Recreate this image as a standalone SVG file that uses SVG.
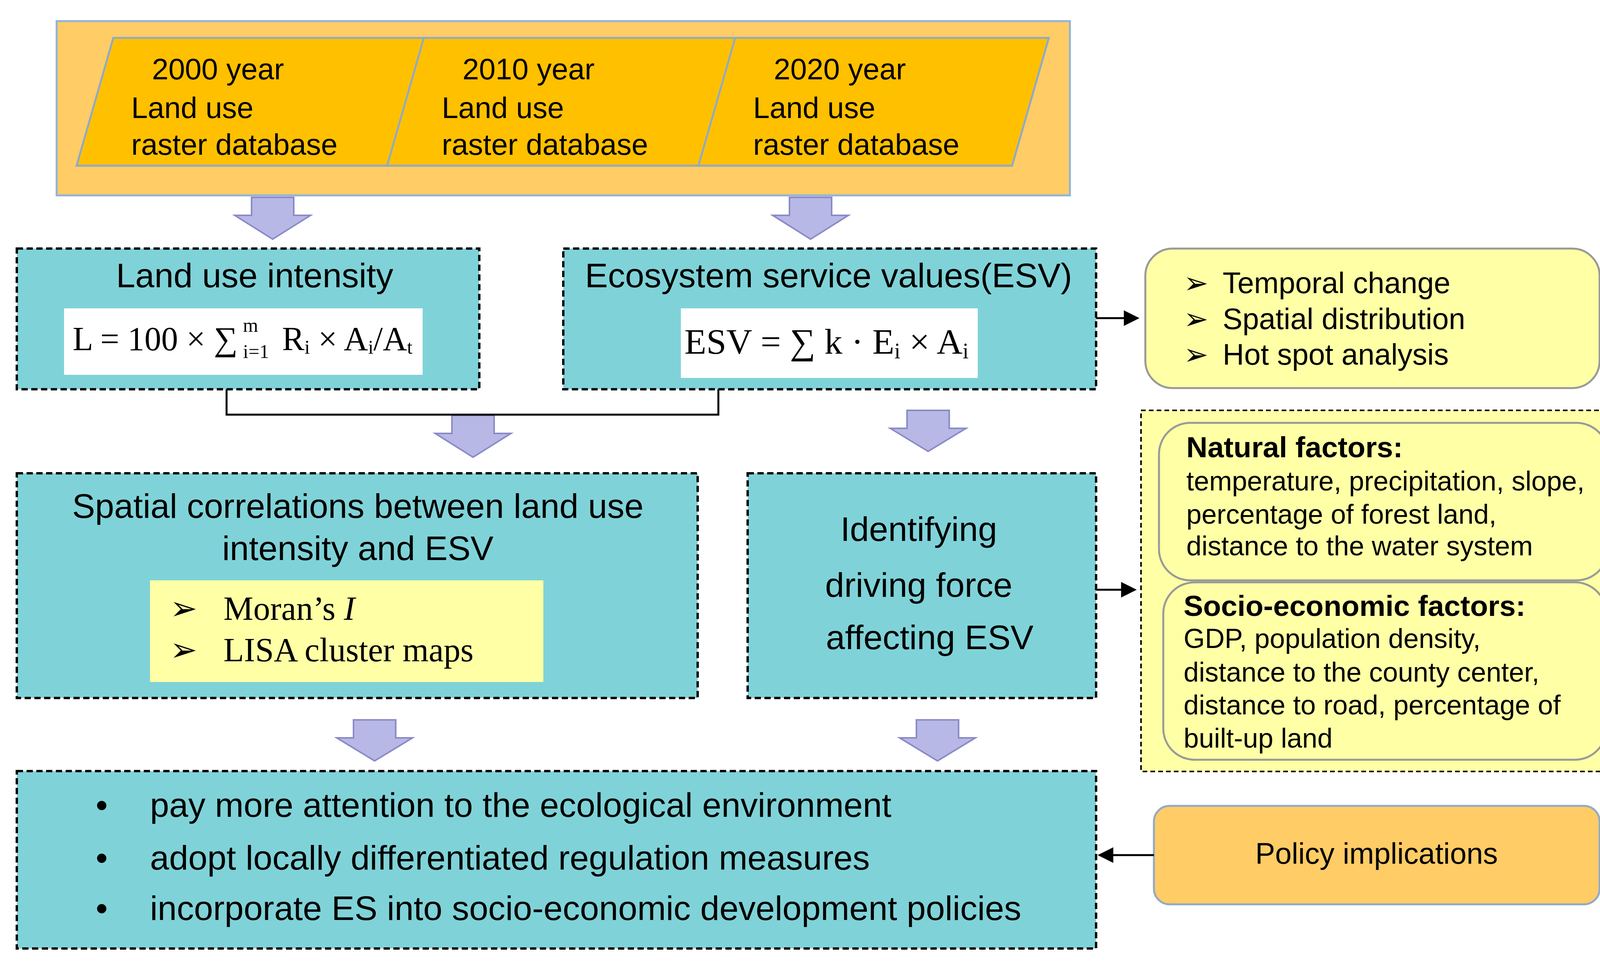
<svg xmlns="http://www.w3.org/2000/svg" width="4210" height="2482" viewBox="0 0 4210 2482">
<defs>
<marker id="ah" markerWidth="8" markerHeight="8" refX="7" refY="4" orient="auto" markerUnits="strokeWidth"><path d="M0,0 L8,4 L0,8 z" fill="#000"/></marker>
<style>
text{font-family:"Liberation Sans",Arial,sans-serif;fill:#000;dominant-baseline:middle}
.t{font-size:76px}
.h{font-size:88px}
.m{font-size:75px}
.s{font-size:70px}
.b{font-weight:bold}
.f{font-family:"Liberation Serif","Times New Roman",serif}
.dash{fill:#7FD3D8;stroke:#000;stroke-width:6;stroke-dasharray:16 9}
.para{fill:#FFC000;stroke:#8FAAC8;stroke-width:5}
.darr{fill:#B8B8E6;stroke:#8A8AC8;stroke-width:4}
.yel{fill:#FFFFA6;stroke:#999;stroke-width:5}
.line{stroke:#000;stroke-width:5;fill:none}
</style>
</defs>
<g id="top">
<rect x="145" y="54" width="2594" height="446" fill="#FFCC66" stroke="#8FB4D9" stroke-width="5"/>
<polygon class="para" points="290,97 1093,97 999,424 196,424"/>
<polygon class="para" points="1085,97 1888,97 1794,424 991,424"/>
<polygon class="para" points="1882,97 2685,97 2591,424 1788,424"/>
<text class="t" x="389" y="183">2000 year</text><text class="t" x="336" y="282">Land use</text><text class="t" x="336" y="376">raster database</text>
<text class="t" x="1184" y="183">2010 year</text><text class="t" x="1131" y="282">Land use</text><text class="t" x="1131" y="376">raster database</text>
<text class="t" x="1981" y="183">2020 year</text><text class="t" x="1928" y="282">Land use</text><text class="t" x="1928" y="376">raster database</text>
</g>
<g id="lui">
<rect class="dash" x="43" y="636" width="1184" height="360"/>
<text class="h" x="652" y="712" text-anchor="middle">Land use intensity</text>
<rect x="164" y="789" width="918" height="170" fill="#fff"/>
<text class="f" x="186" y="876" font-size="86">L = 100 × ∑</text>
<text class="f" x="622" y="838" font-size="50">m</text>
<text class="f" x="622" y="905" font-size="50">i=1</text>
<text class="f" x="722" y="876" font-size="86">R<tspan font-size="50" dy="18">i</tspan><tspan dy="-18"> × A</tspan><tspan font-size="50" dy="18">i</tspan><tspan dy="-18">/A</tspan><tspan font-size="50" dy="18">t</tspan></text>
</g>
<g id="esv">
<rect class="dash" x="1442" y="636" width="1364" height="360"/>
<text class="h" x="2121" y="712" text-anchor="middle">Ecosystem service values(ESV)</text>
<rect x="1743" y="789" width="760" height="178" fill="#fff"/>
<text class="f" x="1752" y="884" font-size="92">ESV = ∑ k · E<tspan font-size="56" dy="20">i</tspan><tspan dy="-20"> × A</tspan><tspan font-size="56" dy="20">i</tspan></text>
</g>
<g id="analysis">
<rect class="yel" x="2932" y="636" width="1163" height="357" rx="70"/>
<text class="t" x="3030" y="730">➢</text><text class="t" x="3130" y="730">Temporal change</text>
<text class="t" x="3030" y="822">➢</text><text class="t" x="3130" y="822">Spatial distribution</text>
<text class="t" x="3030" y="913">➢</text><text class="t" x="3130" y="913">Hot spot analysis</text>
</g>
<g id="spatial">
<rect class="dash" x="43" y="1211" width="1743" height="575"/>
<text class="h" x="916" y="1302" text-anchor="middle">Spatial correlations between  land use</text>
<text class="h" x="916" y="1410" text-anchor="middle">intensity and ESV</text>
<rect x="384" y="1485" width="1007" height="260" fill="#FFFFA6"/>
<text class="f" x="435" y="1566" font-size="84">➢</text><text class="f" x="572" y="1566" font-size="86">Moran’s <tspan font-style="italic">I</tspan></text>
<text class="f" x="435" y="1672" font-size="84">➢</text><text class="f" x="572" y="1672" font-size="86">LISA cluster maps</text>
</g>
<g id="identify">
<rect class="dash" x="1914" y="1211" width="892" height="575"/>
<text class="h" x="2352" y="1361" text-anchor="middle">Identifying</text>
<text class="h" x="2352" y="1504" text-anchor="middle">driving force</text>
<text class="h" x="2380" y="1638" text-anchor="middle">affecting ESV</text>
</g>
<g id="factors">
<rect x="2921" y="1050" width="1246" height="924" fill="#FFFFA6" stroke="#000" stroke-width="4" stroke-dasharray="12 8"/>
<rect class="yel" x="2967" y="1082" width="1149" height="403" rx="80"/>
<text class="m b" x="3037" y="1150">Natural factors:</text>
<text class="s" x="3037" y="1237">temperature, precipitation,  slope,</text>
<text class="s" x="3037" y="1322">percentage of forest land,</text>
<text class="s" x="3037" y="1403">distance to the water system</text>
<rect class="yel" x="2978" y="1490" width="1134" height="454" rx="80"/>
<text class="m b" x="3030" y="1556">Socio-economic factors:</text>
<text class="s" x="3030" y="1640">GDP, population density,</text>
<text class="s" x="3030" y="1726">distance to the county center,</text>
<text class="s" x="3030" y="1810">distance to road, percentage of</text>
<text class="s" x="3030" y="1895">built-up land</text>
</g>
<g id="implications">
<rect class="dash" x="43" y="1973" width="2763" height="454"/>
<text class="h" x="245" y="2067">•</text><text class="h" x="384" y="2067">pay more attention to the ecological environment</text>
<text class="h" x="245" y="2202">•</text><text class="h" x="384" y="2202">adopt locally differentiated regulation measures</text>
<text class="h" x="245" y="2331">•</text><text class="h" x="384" y="2331">incorporate ES into socio-economic development policies</text>
</g>
<g id="policy">
<rect x="2954" y="2062" width="1141" height="252" rx="40" fill="#FFCC66" stroke="#8FAAC8" stroke-width="5"/>
<text class="t" x="3524" y="2190" text-anchor="middle">Policy implications</text>
</g>
<g id="connectors">
<path class="darr" d="M644,505 h108 v46 h43 L698,612 L601,551 h43 z"/>
<path class="darr" d="M2021,505 h108 v46 h43 L2075,612 L1978,551 h43 z"/>
<path class="darr" d="M1157,1063 h108 v46 h43 L1211,1170 L1114,1109 h43 z"/>
<path class="darr" d="M2322,1050 h108 v46 h43 L2376,1155 L2279,1096 h43 z"/>
<path class="darr" d="M905,1842 h108 v46 h43 L959,1947 L862,1888 h43 z"/>
<path class="darr" d="M2346,1842 h108 v46 h43 L2400,1947 L2303,1888 h43 z"/>
<path class="line" d="M580,996 V1061 H1839 V996"/>
<line class="line" x1="2806" y1="814" x2="2912" y2="814" marker-end="url(#ah)"/>
<line class="line" x1="2806" y1="1509" x2="2905" y2="1509" marker-end="url(#ah)"/>
<line class="line" x1="2954" y1="2188" x2="2815" y2="2188" marker-end="url(#ah)"/>
</g>
</svg>
